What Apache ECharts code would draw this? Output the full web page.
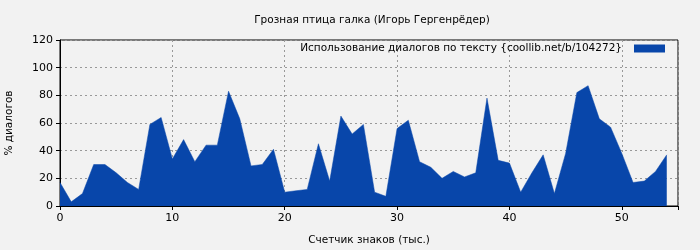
<!DOCTYPE html>
<html><head><meta charset="utf-8">
<script src="https://cdn.jsdelivr.net/npm/echarts@6/dist/echarts.min.js"></script>
<style>html,body{margin:0;padding:0;background:#f2f2f2}#c{width:700px;height:250px}</style>
</head><body><div id="c"></div>
<script>
const xValues = [0,1,2,3,4,5,6,7,8,9,10,11,12,13,14,15,16,17,18,19,20,21,22,23,24,25,26,27,28,29,30,31,32,33,34,35,36,37,38,39,40,41,42,43,44,45,46,47,48,49,50,51,52,53,54];
const dialogShare = [17,3,9,30,30,24,17,12,59,64,34,48,32,44,44,83,63,29,30,41,10,11,12,45,18,65,52,59,10,7,56,62,32,28,20,25,21,24,78,33,31,10,24,37,9,38,82,87,63,57,38,17,18,25,37];
const seriesName = 'Использование диалогов по тексту {coollib.net/b/104272}';
const titleText = 'Грозная птица галка (Игорь Гергенрёдер)';
const xName = 'Счетчик знаков (тыс.)';
const yName = '% диалогов';

const chart = echarts.init(document.getElementById('c'), null, {renderer:'canvas'});
const font = 'DejaVu Sans';
chart.setOption({
  backgroundColor:'#f2f2f2',
  animation:false,
  textStyle:{fontFamily:font},
  title:{text:titleText, left:367, textAlign:'center', top:10,
    textStyle:{fontSize:10.5, fontWeight:'normal', color:'#000', fontFamily:font}},
  grid:{left:60, right:22, top:40, bottom:44, show:true, borderColor:'#000', borderWidth:1,
    backgroundColor:'transparent', outerBoundsMode:'none', containLabel:false},
  legend:{show:true, right:35, top:43, padding:0, itemWidth:31, itemHeight:8, itemGap:8,
    align:'right', data:[{name:seriesName, icon:'rect'}],
    textStyle:{fontSize:10.5, color:'#000', fontFamily:font, padding:[0,7,0,0]}},
  xAxis:{type:'value', min:0, max:55, interval:10, name:xName, nameLocation:'middle', nameGap:29,
    nameTextStyle:{fontSize:10.5, color:'#000', fontFamily:font},
    axisLine:{show:true, lineStyle:{color:'#000', width:1}},
    axisTick:{show:true, length:4, lineStyle:{color:'#000'}},
    axisLabel:{fontSize:11, color:'#000', margin:7, fontFamily:font,
      formatter:v=> (v%10===0 ? String(v) : '')},
    splitLine:{show:true, lineStyle:{color:'#999', type:[2,3], width:1}}},
  yAxis:{type:'value', min:0, max:120, interval:20, name:yName, nameLocation:'middle', nameGap:45,
    nameTextStyle:{fontSize:10.5, color:'#000', fontFamily:font},
    axisLine:{show:true, lineStyle:{color:'#000', width:1}},
    axisTick:{show:true, length:4, lineStyle:{color:'#000'}},
    axisLabel:{fontSize:11, color:'#000', margin:7, fontFamily:font},
    splitLine:{show:true, lineStyle:{color:'#999', type:[2,3], width:1}}},
  series:[{name:seriesName, type:'line', data:xValues.map((x,i)=>[x,dialogShare[i]]),
    showSymbol:false, symbol:'none', color:'#0846aa',
    lineStyle:{width:0.5, color:'#0846aa'},
    areaStyle:{color:'#0846aa', opacity:1}, z:1}]
});
</script></body></html>
